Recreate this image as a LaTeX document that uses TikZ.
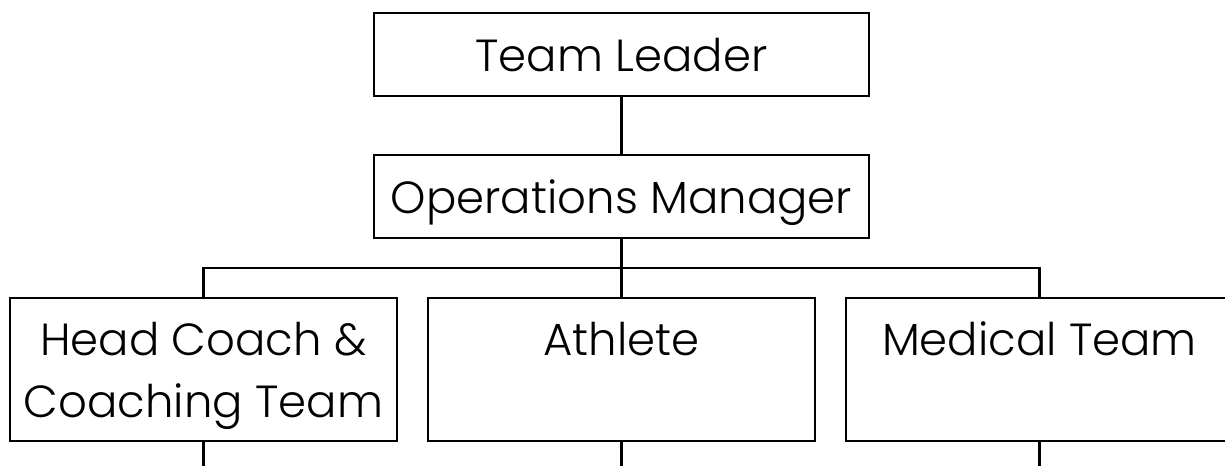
\documentclass[tikz,border=0pt]{standalone}
\usepackage{fontspec}
\setmainfont{Poppins Light}
\begin{document}
\begin{tikzpicture}[x=1pt,y=-1pt,line width=2.6pt,
  box/.style={draw=black,rectangle,inner sep=0pt},
  topbox/.style={box,minimum width=495pt,minimum height=83pt},
  lowbox/.style={box,minimum width=387pt,minimum height=143pt},
  toptext/.style={anchor=base,inner sep=0pt,font=\fontsize{45}{54}\selectfont},
  lowtext/.style={anchor=base,inner sep=0pt,font=\fontsize{45}{62}\selectfont},
  conn/.style={draw=black,line width=2.6pt}]
\useasboundingbox (0,0) rectangle (1225,466);
% boxes
\node[topbox] (tl) at (621.5,54.5) {};
\node[topbox] (om) at (621.5,196.5) {};
\node[lowbox] (hc) at (203.5,369.5) {};
\node[lowbox] (at) at (621.5,369.5) {};
\node[lowbox] (md) at (1039.5,369.5) {};
% texts
\node[toptext] (tlt) at (621.5,71) {Team Leader};
\node[toptext] (omt) at (621.5,213) {Operations Manager};
\node[lowtext] (hct1) at (203.5,355) {Head Coach \&};
\node[lowtext] (hct2) at (203.5,417) {Coaching Team};
\node[lowtext] (att) at (621.5,355) {Athlete};
\node[lowtext] (mdt) at (1039.5,355) {Medical Team};
% connectors
\coordinate (bus) at (621.5,268);
\coordinate (hcb) at (203.5,466);
\coordinate (atb) at (621.5,466);
\coordinate (mdb) at (1039.5,466);
\draw[conn] (tl.south) -- (om.north);
\draw[conn] (om.south) -- (bus);
\draw[conn] (hc.north) |- (bus) -| (md.north);
\draw[conn] (bus) -- (at.north);
\draw[conn] (hc.south) -- (hcb);
\draw[conn] (at.south) -- (atb);
\draw[conn] (md.south) -- (mdb);
\end{tikzpicture}
\end{document}
